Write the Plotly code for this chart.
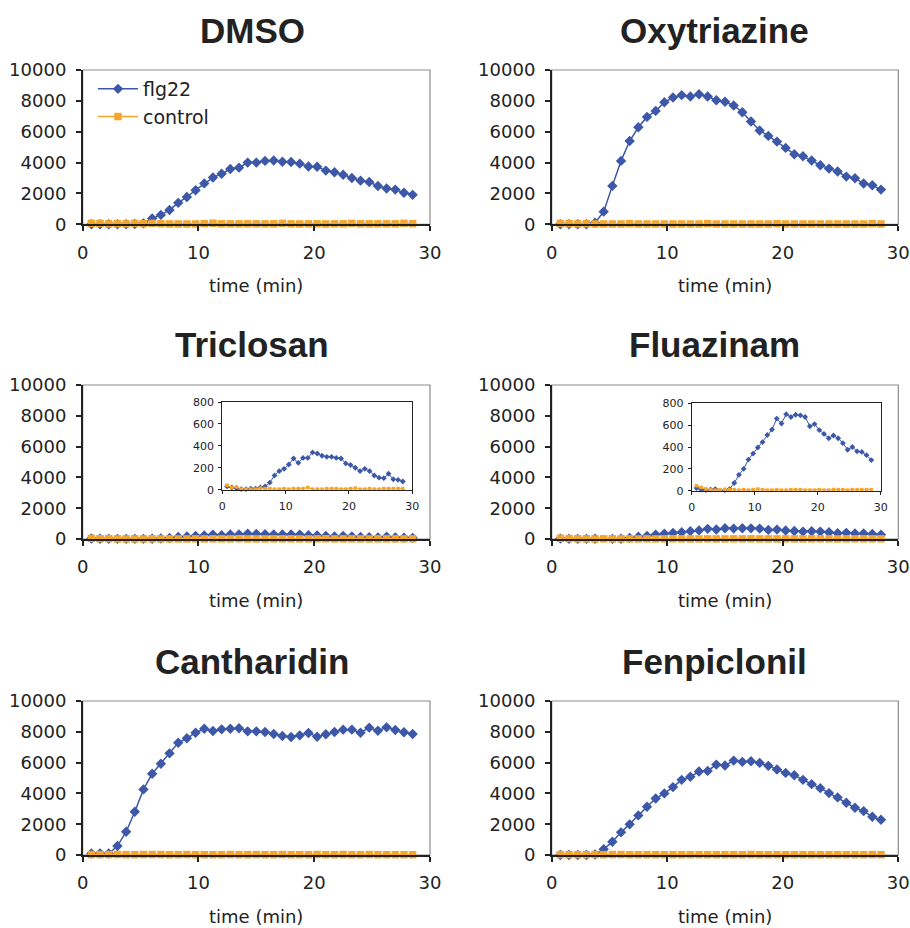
import plotly.graph_objects as go

W, H = 910, 928

# time points (min)
time_min = [0.75 * k for k in range(1, 39)]

titles = ["DMSO", "Oxytriazine", "Triclosan", "Fluazinam", "Cantharidin", "Fenpiclonil"]

dmso_flg22 = [0, 0, 0, 0, 0, 20, 60, 380, 610, 930, 1390, 1770, 2210, 2650, 3030, 3280, 3580, 3670, 4000, 4000,
              4110, 4130, 4050, 4040, 3930, 3750, 3730, 3480, 3370, 3210, 3000, 2830, 2740, 2480, 2320, 2250, 2040, 1910]
dmso_control = [60, 60, 30, 30, 30, 60, 40, 60, 40, 20, 20, 20, 20, 40, 70, 30, 30, 30, 30, 30,
                30, 30, 60, 30, 20, 30, 30, 20, 30, 30, 60, 30, 30, 30, 30, 30, 60, 40]

oxy_flg22 = [0, 0, 0, 0, 100, 820, 2490, 4110, 5400, 6290, 6960, 7350, 7910, 8220, 8370, 8280, 8430, 8280, 8040, 7940,
             7700, 7260, 6660, 6080, 5730, 5360, 4950, 4540, 4410, 4130, 3830, 3610, 3420, 3090, 2980, 2640, 2530, 2250]
oxy_control = [50, 40, 20, 40, 20, 20, 20, 20, 40, 20, 20, 20, 20, 20, 20, 20, 20, 40, 20, 20,
               20, 20, 20, 20, 20, 40, 20, 20, 20, 20, 20, 20, 20, 20, 20, 20, 40, 20]

tric_flg22 = [30, 20, 10, 5, 5, 10, 10, 20, 30, 65, 130, 170, 190, 230, 285, 245, 290, 290, 340, 330,
              310, 300, 300, 290, 285, 240, 225, 200, 170, 190, 170, 130, 110, 105, 145, 95, 90, 75]
tric_control = [40, 20, 25, 5, 5, 5, 5, 15, 10, 10, 5, 5, 10, 5, 10, 10, 10, 20, 5, 5,
                5, 10, 10, 10, 5, 5, 10, 15, 5, 5, 10, 5, 5, 10, 10, 10, 10, 10]

flua_flg22 = [25, 10, 5, 10, 15, -5, 5, 15, 70, 145, 200, 285, 340, 395, 445, 510, 560, 660, 615, 700,
              675, 695, 690, 675, 590, 610, 555, 520, 480, 505, 480, 435, 375, 400, 360, 355, 325, 280]
flua_control = [45, 30, 15, 10, 5, 10, 10, 10, 10, 5, 10, 5, 10, 15, 10, 5, 5, 10, 5, 5,
                10, 10, 10, 5, 5, 5, 10, 5, 5, 10, 10, 10, 5, 10, 10, 10, 10, 10]

canth_flg22 = [100, 100, 100, 580, 1510, 2810, 4260, 5280, 5930, 6600, 7290, 7580, 7940, 8200, 8050, 8160, 8200, 8230, 8030, 8030,
               7990, 7860, 7730, 7660, 7770, 7920, 7680, 7840, 7990, 8140, 8140, 7940, 8270, 8070, 8290, 8120, 7970, 7860]
canth_control = [30, 30, 30, 30, 20, 20, 30, 30, 30, 20, 20, 30, 20, 20, 20, 20, 30, 20, 20, 30,
                 20, 20, 30, 20, 20, 20, 30, 20, 20, 30, 20, 20, 30, 20, 20, 20, 20, 20]

fenp_flg22 = [0, 0, 0, 0, 30, 370, 860, 1470, 1990, 2570, 3130, 3670, 4000, 4410, 4880, 5080, 5420, 5460, 5870, 5810,
              6130, 6050, 6090, 5980, 5790, 5550, 5330, 5180, 4880, 4600, 4340, 4020, 3740, 3390, 3070, 2850, 2480, 2290]
fenp_control = [30, 20, 20, 20, 30, 20, 30, 30, 20, 20, 20, 20, 20, 20, 20, 20, 20, 20, 20, 20,
                20, 20, 30, 20, 20, 20, 20, 20, 20, 20, 20, 20, 20, 20, 20, 20, 30, 20]

flg22_series = [dmso_flg22, oxy_flg22, tric_flg22, flua_flg22, canth_flg22, fenp_flg22]
control_series = [dmso_control, oxy_control, tric_control, flua_control, canth_control, fenp_control]

main_yticks = [0, 2000, 4000, 6000, 8000, 10000]
inset_yticks = [0, 200, 400, 600, 800]
xticks = [0, 10, 20, 30]

BLUE = "#3D58A8"
ORANGE = "#F5A52B"
FONT = "DejaVu Sans"
TITLE_FONT = "Liberation Sans"

# pixel geometry of plot areas
col_px = [(82.7, 430.0), (551.7, 898.3)]
row_px = [(70.0, 224.3), (385.0, 539.0), (701.0, 855.0)]
inset_px = {2: ((222.3, 412.3), (402.0, 489.7)), 3: ((691.7, 880.7), (403.3, 490.7))}


def xd(a, b):
    return [a / W, b / W]


def yd(top, bot):
    return [1 - bot / H, 1 - top / H]


fig = go.Figure()
layout = dict(width=W, height=H, margin=dict(l=0, r=0, t=0, b=0, autoexpand=False),
              paper_bgcolor="white", plot_bgcolor="rgba(0,0,0,0)",
              showlegend=True, font=dict(family=FONT, color="#222222"))
annotations = []
shapes = []

for i in range(6):
    r, c = divmod(i, 2)
    n = i + 1
    xs = "" if n == 1 else str(n)
    x0, x1 = col_px[c]
    top, bot = row_px[r]
    layout["xaxis" + xs] = dict(domain=xd(x0, x1), range=[0, 30], tickvals=xticks, ticks="outside", ticklen=5,
                                tickwidth=1.5, tickcolor="#222", showline=True, linecolor="#222", linewidth=1.5,
                                showgrid=False, zeroline=False, anchor="y" + xs, fixedrange=True, automargin=False,
                                tickfont=dict(size=18, family=FONT, color="#222"), ticklabelstandoff=6)
    layout["yaxis" + xs] = dict(domain=yd(top, bot), range=[0, 10000], tickvals=main_yticks, tickformat="d",
                                ticks="outside", ticklen=5, tickwidth=1.5, tickcolor="#222", showline=True,
                                linecolor="#222", linewidth=1.5, showgrid=False, zeroline=False,
                                anchor="x" + xs, fixedrange=True, automargin=False,
                                tickfont=dict(size=18, family=FONT, color="#222"), ticklabelstandoff=6)
    # gray frame (top/right)
    shapes.append(dict(type="rect", xref="x" + xs + " domain", yref="y" + xs + " domain", x0=0, x1=1, y0=0, y1=1,
                       line=dict(color="#8C8C8C", width=1.2), layer="below"))
    fig.add_trace(go.Scatter(x=time_min, y=flg22_series[i], mode="lines+markers", name="flg22",
                             xaxis="x" + xs, yaxis="y" + xs, cliponaxis=False, showlegend=(i == 0),
                             legendgroup="a", line=dict(color=BLUE, width=1.5),
                             marker=dict(symbol="diamond", size=8, color=BLUE)))
    fig.add_trace(go.Scatter(x=time_min, y=control_series[i], mode="lines+markers", name="control",
                             xaxis="x" + xs, yaxis="y" + xs, cliponaxis=False, showlegend=(i == 0),
                             legendgroup="b", line=dict(color=ORANGE, width=1.5),
                             marker=dict(symbol="square", size=7.5, color=ORANGE)))
    # panel title
    annotations.append(dict(text="<b>" + titles[i] + "</b>", xref="paper", yref="paper",
                            x=[252, 714][c] / W, y=1 - (top - 40) / H, xanchor="center", yanchor="middle",
                            showarrow=False, font=dict(size=35, family=TITLE_FONT, color="#222")))
    # x axis title
    annotations.append(dict(text="time (min)", xref="paper", yref="paper", x=(x0 + x1) / 2 / W,
                            y=1 - (bot + 61) / H, xanchor="center", yanchor="middle", showarrow=False,
                            font=dict(size=18, family=FONT, color="#222")))

# insets
for k, (pi, n) in enumerate([(2, 7), (3, 8)]):
    (x0, x1), (top, bot) = inset_px[pi]
    xs = str(n)
    layout["xaxis" + xs] = dict(domain=xd(x0, x1), range=[0, 30], tickvals=xticks, ticks="outside", ticklen=3,
                                tickcolor="#222", showline=True, mirror=True, linecolor="#222", linewidth=1.2,
                                showgrid=False, zeroline=False, anchor="y" + xs, fixedrange=True, automargin=False,
                                tickfont=dict(size=11, family=FONT, color="#222"), ticklabelstandoff=3)
    layout["yaxis" + xs] = dict(domain=yd(top, bot), range=[0, 800], tickvals=inset_yticks, ticks="outside",
                                ticklen=3, tickcolor="#222", showline=True, mirror=True, linecolor="#222",
                                linewidth=1.2, showgrid=False, zeroline=False, anchor="x" + xs, fixedrange=True,
                                automargin=False,
                                tickfont=dict(size=11, family=FONT, color="#222"), ticklabelstandoff=2)
    fig.add_trace(go.Scatter(x=time_min, y=flg22_series[pi], mode="lines+markers", showlegend=False,
                             xaxis="x" + xs, yaxis="y" + xs, cliponaxis=False,
                             line=dict(color=BLUE, width=1), marker=dict(symbol="diamond", size=4.5, color=BLUE)))
    fig.add_trace(go.Scatter(x=time_min, y=control_series[pi], mode="lines+markers", showlegend=False,
                             xaxis="x" + xs, yaxis="y" + xs, cliponaxis=False,
                             line=dict(color=ORANGE, width=1), marker=dict(symbol="square", size=3.5, color=ORANGE)))

layout["annotations"] = annotations
layout["shapes"] = shapes
layout["legend"] = dict(x=93 / W, y=1 - 70 / H, xanchor="left", yanchor="top", bgcolor="rgba(0,0,0,0)",
                        font=dict(size=19, family=FONT, color="#222"), tracegroupgap=0, itemwidth=40)
fig.update_layout(**layout)
fig.write_html("out.html", config={"displayModeBar": False},
               post_script="document.body.style.margin='0';document.body.style.overflow='hidden';")
